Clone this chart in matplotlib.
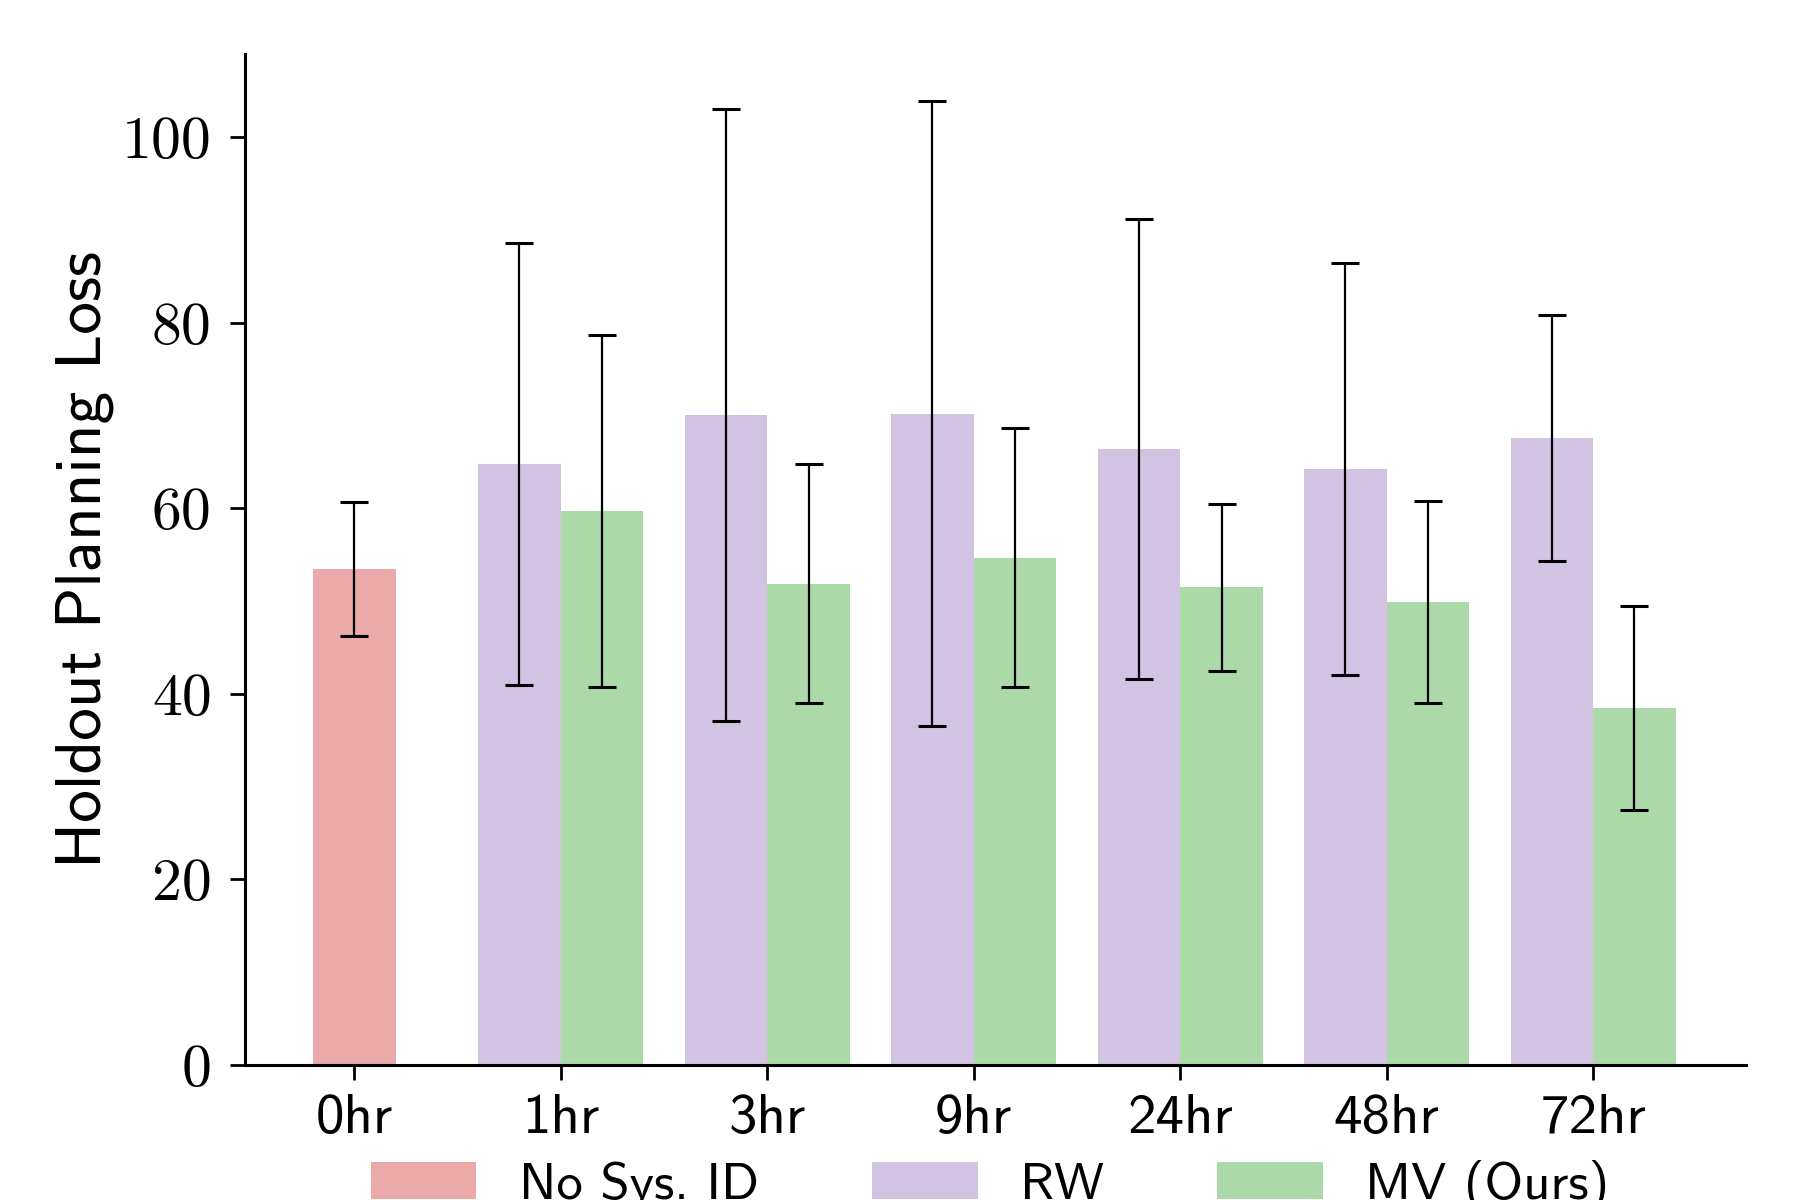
import matplotlib
matplotlib.use("Agg")
import matplotlib.pyplot as plt
import numpy as np

categories = ["0hr", "1hr", "3hr", "9hr", "24hr", "48hr", "72hr"]
nosysid_mean = [53.5]
nosysid_err = [7.2]
rw_mean = [64.8, 70.1, 70.2, 66.4, 64.3, 67.6]
rw_err = [23.8, 33.0, 33.7, 24.8, 22.2, 13.3]
mv_mean = [59.7, 51.9, 54.7, 51.5, 49.9, 38.5]
mv_err = [19.0, 12.9, 14.0, 9.0, 10.9, 11.0]
legend_labels = ["No Sys. ID", "RW", "MV (Ours)"]
yticks = [0, 20, 40, 60, 80, 100]

c_red = "#EBA9A9"
c_purple = "#D3C3E3"
c_green = "#ABDAA8"

plt.rcParams["font.family"] = ["cmss10", "DejaVu Sans"]
plt.rcParams["axes.unicode_minus"] = False

fig = plt.figure(figsize=(9, 6), dpi=200)
ax = fig.add_axes([0.136, 0.1125, 0.834, 0.8425])

x = np.arange(len(categories))
w = 0.4
ekw = dict(fmt="none", ecolor="black", elinewidth=0.8, capsize=5, capthick=1.1)

b0 = ax.bar(x[:1], nosysid_mean, width=w, color=c_red, label=legend_labels[0])
ax.errorbar(x[:1], nosysid_mean, yerr=nosysid_err, **ekw)
b1 = ax.bar(x[1:] - w / 2, rw_mean, width=w, color=c_purple, label=legend_labels[1])
ax.errorbar(x[1:] - w / 2, rw_mean, yerr=rw_err, **ekw)
b2 = ax.bar(x[1:] + w / 2, mv_mean, width=w, color=c_green, label=legend_labels[2])
ax.errorbar(x[1:] + w / 2, mv_mean, yerr=mv_err, **ekw)

ax.set_xlim(-0.53, 6.74)
ax.set_ylim(0, 109)
ax.set_xticks(x)
ax.set_xticklabels(categories, fontsize=20.5, family=["cmss10", "DejaVu Sans"])
ax.set_yticks(yticks)
ax.set_yticklabels([str(v) for v in yticks], fontsize=21.5, family=["cmr10", "DejaVu Serif"])
ax.set_ylabel("Holdout Planning Loss", fontsize=23.5, labelpad=3)

for s in ["top", "right"]:
    ax.spines[s].set_visible(False)
for s in ["left", "bottom"]:
    ax.spines[s].set_linewidth(1.1)
ax.tick_params(axis="both", direction="out", length=5.4, width=1.0)
ax.tick_params(axis="y", pad=6.5)
ax.tick_params(axis="x", pad=5)

fig.legend(handles=[b0, b1, b2], labels=legend_labels, loc="center",
           bbox_to_anchor=(0.55, 0.012), ncol=3, frameon=False, fontsize=19,
           handlelength=2.0, handletextpad=0.8, columnspacing=2.15)

fig.savefig("out.png", dpi=200)
